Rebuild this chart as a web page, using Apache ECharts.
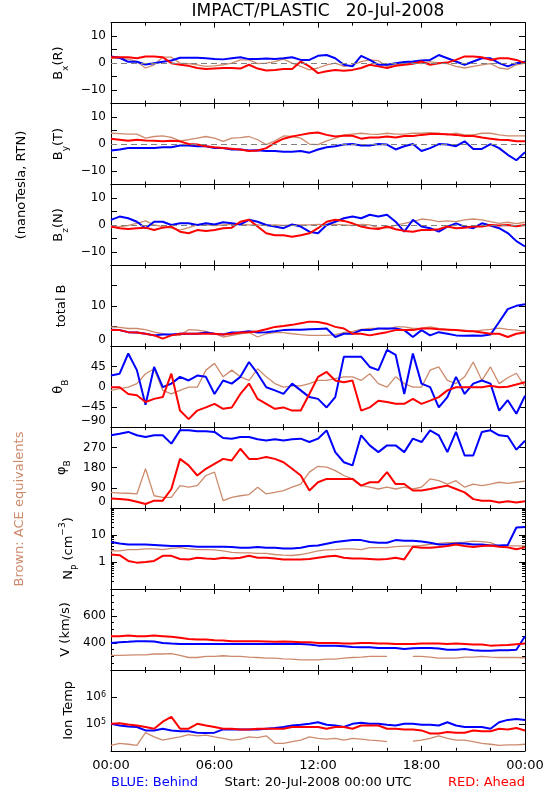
<!DOCTYPE html>
<html><head><meta charset="utf-8">
<script src="https://cdn.jsdelivr.net/npm/echarts@6/dist/echarts.min.js"></script>
<style>html,body{margin:0;padding:0;background:#fff}#c{width:550px;height:800px}</style>
</head><body><div id="c"></div>
<script>
// time axis (hours since 20-Jul-2008 00:00 UTC), 30-min steps
const hours = [0,0.5,1,1.5,2,2.5,3,3.5,4,4.5,5,5.5,6,6.5,7,7.5,8,8.5,9,9.5,10,10.5,11,11.5,12,12.5,13,13.5,14,14.5,15,15.5,16,16.5,17,17.5,18,18.5,19,19.5,20,20.5,21,21.5,22,22.5,23,23.5,24];
const xTickLabels = ['00:00','06:00','12:00','18:00','00:00'];

// Bx (R)
const bxBlue  = [2.5,2,0.5,0.5,-0.5,0,0.5,1,2,2, 2,1.8,1.5,1.4,1.8,2.2,1.5,1.5,1.7,1.5, 1.8,2.2,1.2,1.2,2.7,3,1.8,-0.6,-1.2,2.7, 1.2,-0.6,-0.6,0,0.4,0.6,1,1.2,3,1.8, 0.6,-0.6,0.6,1.8,1.8,0,-1.2,0,0.5];
const bxRed   = [2.2,2.2,2.2,1.8,2.5,2.5,2.2,0,-0.6,-1, -1.8,-2.2,-2,-1.8,-1.8,-2,-0.6,-2,-2.7,-2.5, -2.2,-2.2,0.6,-1.2,-3.7,-3,-2.5,-2.8,-2.5,-1.8, -0.6,-1.2,-1.8,-1,-0.6,-0.2,0.6,-0.6,0,0.2, 1.2,2.5,2.5,2.2,1.2,1.8,1.8,1.2,0];
const bxBrown = [1.8,1.8,1.5,0.6,-1.8,-0.6,2.2,2.2,0,-0.2, -0.6,-1.2,-1,-0.6,0,1.2,1.2,-0.2,0,0.6, 1.5,0,-1.2,-2.5,-1.8,-0.6,0,-1.2,-0.6,0.6, 1.2,0.9,-1.2,-0.6,0,0.2,-0.2,0.6,0,-0.2, -1.2,-1.8,-1.2,-0.6,-0.2,-1.8,-2.2,-0.6,0];
// By (T)
const byBlue  = [-2.4,-2,-1.5,-1.5,-1.5,-1.5,-1.2,-1.2,-0.5,-0.5, -0.8,-0.8,-1.5,-1.5,-2,-2,-2.4,-2.3,-2.6,-2.6, -2.9,-2.9,-2.6,-3.2,-2,-1.2,-0.8,-0.2,0,-0.5, -0.5,0,-0.2,-2,-0.8,0,-2.6,-1.5,0,-0.2, -0.8,1,-1.8,-1.8,0,-1.5,-4,-6,-3];
const byRed   = [2,1.6,1.2,1.6,1.3,1.2,1,1.2,1,0, -0.2,-0.8,-1.2,-1.5,-1.7,-2,-2.6,-2.4,-1.5,0.4, 2,2.8,3.4,4,4.3,3.4,2.8,3.1,3.1,2, 2.4,2.4,2.8,2.4,3,3,3.4,3.7,3.7,3.6, 3.4,3,3,2.4,2,1.6,1.5,1,1];
const byBrown = [4,3.9,3.7,3.7,2.2,2.8,3,2.5,1.2,1.6, 2.2,2.8,2.2,1,2.2,2.4,2.8,1.6,-0.2,1.2, 3,2.8,2.2,0,-0.2,1.2,2.2,3.4,3.7,4, 3.7,3.6,4,3.7,3.7,4,4,4.2,4,3.4, 4,3.4,3.4,4,4,3.4,3,3,3];
// Bz (N)
const bzBlue  = [1.9,3.1,2.5,1.2,-1.2,1.2,1.2,0,0.6,0.6, 0,0.6,0.2,1,0.6,0.2,1.9,1.2,0,-0.6, -1.2,0.2,-0.6,-2.5,-3.1,0,1.2,2.5,3.1,2.5, 3.8,3.1,3.8,1.2,-2.5,1.9,-0.6,-1.2,-2.5,-0.6, 0.6,-0.6,-1.2,0.6,-0.2,-1.2,-3,-6,-8];
const bzRed   = [-0.6,-1.2,-1.5,-1.2,-1,-1.9,-1,-0.6,-2.5,-3.1, -1.9,-2.2,-1.9,-1.2,-1,1.2,1.9,-0.6,-3.1,-3.8, -3.8,-4.4,-3.8,-3.1,-1.2,1.2,1.9,1.5,0.6,-0.6, -1.2,-1.5,-0.6,-1.6,-2.2,-2.5,-1.9,-1.9,-1.6,-0.6, -1.2,-1,-0.6,-0.6,0,-0.2,0,-0.5,0];
const bzBrown = [-1,-0.6,-0.2,0.6,1.5,0,-0.6,-1.2,-1.9,-1, 0,0,-0.2,0,0.2,0.2,0,0,-0.2,0, -0.2,0,0,0,0.2,0,0.2,0,-0.2,0.2, 0,-1,-1.2,-0.2,0.6,1.2,2.2,1.9,1.2,1.5, 1.2,1.9,2.2,1.9,1.2,0.6,1,0.5,1];
// total B
const btBlue  = [4.1,4,3.5,3.4,3.1,2.7,2.9,2.9,3.1,3.1, 3.1,3.4,3.1,2.9,3.4,3.5,3.7,3.4,3.5,3.7, 4,4.1,4.1,4.2,4.3,4.4,2.3,3.1,3.1,4, 4,4.4,4.4,4.4,4,2.3,4,2.7,3.5,3.1, 2.7,2.6,2.7,2.6,2.9,6,9.2,10,10.4];
const btRed   = [4,4,3.5,3.4,3.1,2.7,1.9,2.7,3.1,3.1, 3.1,3.1,3.1,2.9,3.1,3.4,3.5,3.7,4.2,4.8, 5,5.3,5.7,6.1,6,5.6,4.8,4.4,3.1,3.1, 2.7,3.1,3.5,4,4,4,4.4,4.4,4.2,4.1, 4,3.8,3.7,3.4,3.1,3.1,2.3,3.1,3.4];
const btBrown = [4.8,4.7,4.4,4.4,4.1,3.5,3.1,2.7,2.7,4.1, 4,3.7,3.1,2.3,2.7,3.1,3.4,2.3,3.1,3.4, 3.4,3.1,2.9,2.7,2.7,2.7,2.9,3.4,3.7,4.2, 4.4,4.4,4.2,4.8,4.8,4.4,4.5,4.8,4.4,4.2, 4,4,3.7,4,4.2,4.5,4.2,4,3.7];
// theta_B
const thBlue  = [25,29,74,37,-40,44,-1,7,22,14, 25,22,-16,14,7,22,55,29,-1,-8, -16,7,-8,-23,-27,-46,-23,67,67,67, 44,37,82,71,-16,74,7,-1,-46,-23, 22,-16,7,14,7,-53,-30,-60,-20];
const thRed   = [-1,-1,-16,-19,-34,-27,-23,29,-53,-72, -53,-46,-38,-49,-46,-16,7,-27,-38,-49, -46,-53,-53,-16,22,33,14,10,14,-53, -46,-31,-34,-38,-38,-27,-38,-31,-23,-8, -1,-1,-1,-1,2,-1,0,5,10];
const thBrown = [-8,-4,-1,7,29,40,-8,-16,-8,-1, -1,37,52,22,37,22,14,40,22,7, -1,2,2,7,14,14,18,22,22,14, 29,7,-1,22,7,-1,-1,37,44,14, 7,22,55,14,44,7,20,30,0];
// phi_B
const phBlue  = [324,331,339,324,316,324,324,287,346,346, 342,342,339,312,309,316,316,306,301,306, 301,306,309,294,309,346,249,204,190,324, 279,249,279,279,249,309,294,346,324,249, 339,234,234,339,346,324,320,260,300];
const phRed   = [43,40,37,28,18,33,33,85,219,190, 145,175,197,219,212,264,219,219,227,219, 204,175,145,78,115,130,130,130,130,100, 115,115,160,107,107,78,78,85,93,100, 85,70,40,33,33,25,30,25,30];
const phBrown = [70,67,66,63,175,55,48,48,100,93, 100,145,160,33,48,55,60,93,63,70, 78,93,107,160,186,182,167,145,130,100, 93,85,93,85,93,85,93,130,122,107, 122,93,107,100,107,115,110,115,120];
// Np (cm^-3)
const npBlue  = [5.5,4.9,4.5,4.5,4.5,4.3,4.1,3.9,3.9,3.9, 3.7,3.7,3.7,3.7,3.6,3.4,3.4,3.6,3.4,3.4, 3.2,3.2,3.4,3.9,4.1,4.8,5.5,6,6.5,6.5, 5.5,5.2,5.2,6.5,6.2,6.2,5.8,5.2,4.5,4.5, 4.9,4.9,4.5,4.5,4.1,4.1,4.3,19,20];
const npRed   = [1.9,1.8,1.1,0.95,1,1.1,1.7,1.7,1.3,1.25, 1.45,1.35,1.3,1.45,1.35,1.45,1.7,1.45,1.45,1.35, 1.25,1.25,1.25,1.3,1.45,1.6,1.7,1.45,1.35,1.35, 1.3,1.25,1.3,1.45,1.25,3.7,3.4,3.4,3.6,3.9, 4.5,3.9,3.6,3.9,4.1,3.7,3.5,3,3.5];
const npBrown = [2.6,2.6,2.9,2.9,3.1,3.1,2.9,3.2,3.4,3.1, 2.9,2.9,2.8,2.6,2.3,2.2,2.2,2.1,2.1,1.9, 1.8,1.75,1.9,2.2,2.6,2.8,2.9,3.1,3.1,2.9, 3.4,3.4,3.4,3.7,3.9,3.9,4.1,4.5,4.9,5.2, 5.2,5.5,6,5.7,5.2,3.9,4,4,4];
// V (km/s)
const vBlue   = [400,405,408,412,412,410,400,395,392,392, 392,392,392,392,392,392,392,392,392,392, 392,392,392,388,380,380,380,375,370,368, 368,362,362,362,355,360,362,362,358,350, 350,355,345,342,342,345,345,350,450];
const vRed    = [450,450,455,450,450,455,450,445,438,430, 425,425,420,418,412,412,412,412,410,408, 410,408,405,405,400,400,400,395,395,400, 400,395,395,392,392,392,395,395,395,392, 395,392,388,388,380,382,385,390,395];
const vBrown  = [308,308,310,312,312,318,318,320,308,292, 292,300,300,305,300,300,295,292,288,288, 282,280,275,275,275,280,280,288,292,295, 300,300,300,null,null,300,300,295,288,288, 288,295,295,300,295,292,292,292,290];
// Ion Temp (K)
const tBlue   = [1e5,8.7e4,8e4,7.6e4,5.7e4,5.7e4,6.6e4,5.7e4,5.3e4,5.3e4, 4.7e4,4.6e4,4.7e4,6.2e4,6.2e4,6.2e4,6.2e4,6.2e4,6.6e4,7e4, 7.6e4,8.7e4,9.2e4,1e5,1.15e5,9.2e4,8.7e4,7.6e4,1e5,1.09e5, 1e5,1e5,9.2e4,8.7e4,1e5,1e5,9.2e4,9.2e4,8.7e4,1.15e5, 8.7e4,7.6e4,7.6e4,7.6e4,6.6e4,1.15e5,1.4e5,1.5e5,1.4e5];
const tRed    = [1e5,1.06e5,9.5e4,8.7e4,7.6e4,6.6e4,1.2e5,1.8e5,6.6e4,6.6e4, 1e5,8.7e4,7.6e4,6.6e4,6.6e4,6.2e4,6.2e4,6.6e4,6.6e4,6.6e4, 6.6e4,7.6e4,7.6e4,7.6e4,7.6e4,6.6e4,7.6e4,7.6e4,6.6e4,8.7e4, 8.7e4,8.7e4,6.6e4,6.6e4,6.2e4,6.2e4,5.7e4,4.4e4,4.4e4,5e4, 4.7e4,4.7e4,5.7e4,5.3e4,5.3e4,6.6e4,6.2e4,7e4,5.7e4];
const tBrown  = [1.6e4,1.9e4,1.75e4,1.6e4,4.7e4,3.3e4,2.5e4,2.9e4,3.3e4,4e4, 3.6e4,3.8e4,3.3e4,2.9e4,2.5e4,2.7e4,3.3e4,3.1e4,3.6e4,1.9e4, 1.9e4,2.2e4,2.5e4,3.3e4,2.9e4,2.7e4,2.9e4,2.5e4,2.9e4,2.7e4, 2.5e4,2.4e4,2.2e4,null,null,2.3e4,2.5e4,2.9e4,3.6e4,2.9e4, 2.5e4,2.5e4,2.2e4,1.9e4,1.75e4,1.6e4,1.65e4,1.65e4,1.75e4];

const FONT = 'DejaVu Sans';
const BLUE = '#0000FF', RED = '#FF0000', BROWN = '#CD8B6E';
const TOP0 = 22.7, PH = 80.9, LEFT = 111, RIGHT = 25;
const minus = v => String(v).replace('-', '\u2212');
const near = (a, b) => Math.abs(a - b) < 1e-6 * Math.max(1, Math.abs(b));

const nameRich = {
  t: {fontSize: 13, lineHeight: 22, fontFamily: FONT, color: '#000'},
  s: {fontSize: 9, lineHeight: 10, verticalAlign: 'bottom', fontFamily: FONT, color: '#000'},
  p: {fontSize: 9, lineHeight: 10, verticalAlign: 'top', fontFamily: FONT, color: '#000'}
};
const labelRich = {
  p: {fontSize: 8, lineHeight: 8, verticalAlign: 'top', fontFamily: FONT, color: '#000'}
};

const panels = [
  {name: '{t|B}{s|x}{t|(R)}', data: [bxBrown, bxBlue, bxRed], ax: {min: -15, max: 15, interval: 5},
   fmt: v => (v % 10 === 0 && Math.abs(v) < 15) ? minus(v) : '', zero: true, gap: 35},
  {name: '{t|B}{s|y}{t|(T)}', data: [byBrown, byBlue, byRed], ax: {min: -15, max: 15, interval: 5},
   fmt: v => (v % 10 === 0 && Math.abs(v) < 15) ? minus(v) : '', zero: true, gap: 35},
  {name: '{t|B}{s|z}{t|(N)}', data: [bzBrown, bzBlue, bzRed], ax: {min: -15, max: 15, interval: 5},
   fmt: v => (v % 10 === 0 && Math.abs(v) < 15) ? minus(v) : '', zero: true, gap: 35},
  {name: '{t|total B}', data: [btBrown, btBlue, btRed], ax: {min: 0, max: 20, interval: 5},
   fmt: v => (v === 0 || v === 10) ? String(v) : '', minBottom: true, gap: 38},
  {name: '{t|\u03b8}{s|B}', data: [thBrown, thBlue, thRed], ax: {min: -90, max: 90, interval: 45},
   fmt: v => v < 90 ? minus(v) : '', minBottom: true, gap: 35},
  {name: '{t|\u03c6}{s|B}', data: [phBrown, phBlue, phRed], ax: {min: 0, max: 360, interval: 90},
   fmt: v => v < 360 ? String(v) : '', minBottom: true, gap: 33},
  {name: '{t|N}{s|P}{t| (cm}{p|\u22123}{t|)}', data: [npBrown, npBlue, npRed], log: true, ax: {min: 0.1, max: 100},
   fmt: v => near(v, 1) ? '1' : (near(v, 10) ? '10' : ''), minor: 9, gap: 22},
  {name: '{t|V (km/s)}', data: [vBrown, vBlue, vRed], ax: {min: 200, max: 800, interval: 200},
   fmt: v => (v === 400 || v === 600) ? String(v) : '', minor: 4, gap: 30},
  {name: '{t|Ion Temp}', data: [tBrown, tBlue, tRed], log: true, ax: {min: 1e4, max: 1e7},
   fmt: v => { const e = Math.round(Math.log10(v)); return (e === 5 || e === 6) ? '10{p|' + e + '}' : ''; }, gap: 28}
];

const grids = [], xAxes = [], yAxes = [], series = [];
const cols = [BROWN, BLUE, RED], widths = [1.3, 2, 2];
const black = {color: '#000', width: 1};

panels.forEach((p, i) => {
  const last = i === panels.length - 1;
  grids.push({left: LEFT, right: RIGHT, top: TOP0 + i * PH, height: PH, containLabel: false, outerBoundsMode: 'none'});
  const xBase = {
    type: 'value', gridIndex: i, min: 0, max: 24, interval: 6,
    axisLine: {show: true, onZero: false, lineStyle: black},
    axisTick: {show: true, inside: true, length: 5, lineStyle: black},
    minorTick: {show: true, splitNumber: 3, length: 3, lineStyle: black},
    splitLine: {show: false}, minorSplitLine: {show: false}
  };
  xAxes.push(Object.assign({}, xBase, {position: 'bottom',
    axisLabel: {show: last, margin: 8, fontFamily: FONT, fontSize: 13, color: '#000',
      showMinLabel: true, showMaxLabel: true, interval: 0,
      formatter: v => xTickLabels[Math.round(v / 6)]}}));
  xAxes.push(Object.assign({}, xBase, {position: 'top', axisLabel: {show: false}}));

  const yBase = Object.assign({
    type: p.log ? 'log' : 'value', gridIndex: i,
    axisLine: {show: true, onZero: false, lineStyle: black},
    axisTick: {show: true, inside: true, length: 6, lineStyle: black},
    minorTick: {show: !!p.minor, splitNumber: p.minor || 5, length: 3, lineStyle: black},
    splitLine: {show: false}, minorSplitLine: {show: false}
  }, p.log ? {logBase: 10} : {}, p.ax);
  const lab = {show: true, margin: 5, fontFamily: FONT, fontSize: 12, color: '#000', lineHeight: 12,
    showMinLabel: true, showMaxLabel: true, hideOverlap: false, interval: 0,
    formatter: p.fmt, rich: labelRich};
  if (p.minBottom) lab.verticalAlignMinLabel = 'bottom';
  yAxes.push(Object.assign({}, yBase, {position: 'left', name: p.name, nameLocation: 'middle',
    nameRotate: 90, nameGap: p.gap,
    nameTextStyle: {rich: nameRich, fontFamily: FONT, fontSize: 13, color: '#000'},
    axisLabel: lab}));
  yAxes.push(Object.assign({}, yBase, {position: 'right', axisLabel: {show: false}}));

  p.data.forEach((arr, k) => {
    const s = {
      type: 'line', xAxisIndex: 2 * i, yAxisIndex: 2 * i,
      data: hours.map((h, j) => [h, arr[j]]),
      showSymbol: false, symbol: 'none', connectNulls: false, silent: true,
      lineStyle: {color: cols[k], width: widths[k]}, itemStyle: {color: cols[k]},
      z: 2 + k
    };
    if (k === 0 && p.zero) {
      s.markLine = {silent: true, symbol: 'none', label: {show: false},
        lineStyle: {color: '#808080', type: [6, 4], width: 1}, data: [{yAxis: 0}]};
    }
    series.push(s);
  });
});

const txt = (x, y, text, o) => ({type: 'text', x, y, silent: true, rotation: (o && o.rot) || 0,
  style: {text, fontFamily: FONT, fontSize: (o && o.size) || 13, fill: (o && o.fill) || '#000',
    align: (o && o.align) || 'center', verticalAlign: 'middle'}});

const graphics = [
  txt(318, 12, 'IMPACT/PLASTIC   20-Jul-2008', {size: 17}),
  txt(22, 185, '(nanoTesla, RTN)', {rot: Math.PI / 2}),
  txt(20, 509, 'Brown: ACE equivalents', {rot: Math.PI / 2, fill: BROWN}),
  txt(111, 783, 'BLUE: Behind', {align: 'left', fill: BLUE}),
  txt(318, 783, 'Start: 20-Jul-2008 00:00 UTC', {}),
  txt(525, 783, 'RED: Ahead', {align: 'right', fill: RED})
];

const chart = echarts.init(document.getElementById('c'), null, {renderer: 'canvas'});
chart.setOption({
  animation: false,
  backgroundColor: '#fff',
  textStyle: {fontFamily: FONT},
  grid: grids, xAxis: xAxes, yAxis: yAxes, series,
  graphic: graphics
});
</script></body></html>
